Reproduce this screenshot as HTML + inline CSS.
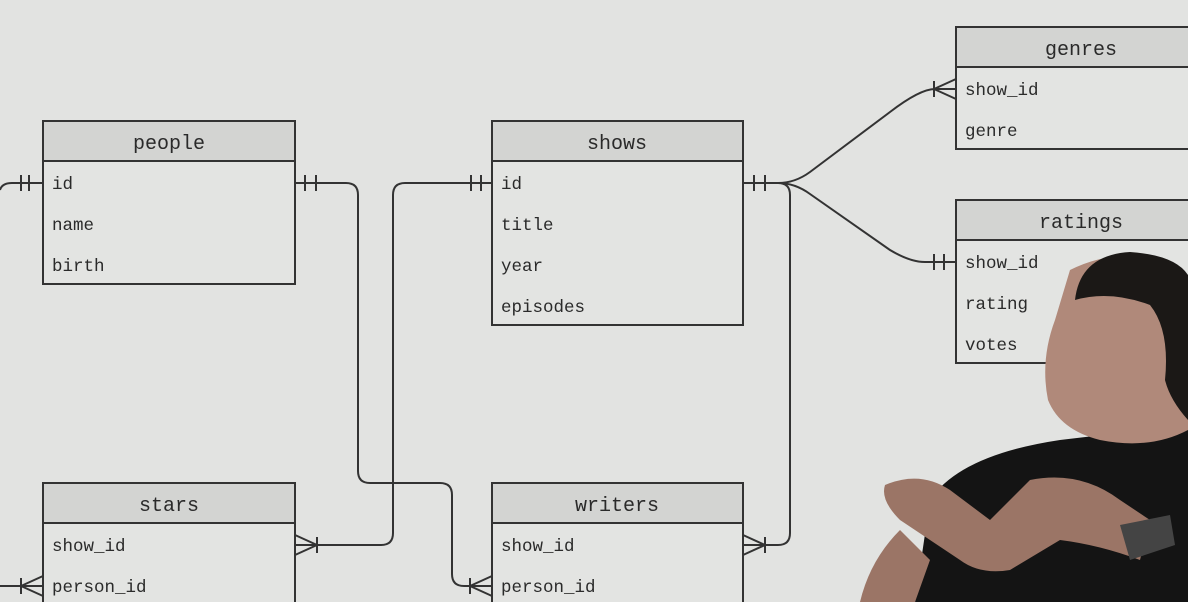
<!DOCTYPE html>
<html><head><meta charset="utf-8"><style>
html,body{margin:0;padding:0;background:#e2e3e1;}
svg{display:block}
text{font-family:"Liberation Mono",monospace;fill:#2a2a2a}
.h{font-size:20px}
.r{font-size:17.5px}
</style></head><body>
<svg width="1188" height="602" viewBox="0 0 1188 602">
<rect width="1188" height="602" fill="#e2e3e1"/>
<g stroke="#333" stroke-width="2" fill="none">
<!-- tables -->
<rect x="43" y="121" width="252" height="163" fill="#e3e4e2"/>
<rect x="43" y="121" width="252" height="40" fill="#d3d4d2"/>
<rect x="492" y="121" width="251" height="204" fill="#e3e4e2"/>
<rect x="492" y="121" width="251" height="40" fill="#d3d4d2"/>
<rect x="956" y="27" width="240" height="122" fill="#e3e4e2"/>
<rect x="956" y="27" width="240" height="40" fill="#d3d4d2"/>
<rect x="956" y="200" width="240" height="163" fill="#e3e4e2"/>
<rect x="956" y="200" width="240" height="40" fill="#d3d4d2"/>
<rect x="43" y="483" width="252" height="140" fill="#e3e4e2"/>
<rect x="43" y="483" width="252" height="40" fill="#d3d4d2"/>
<rect x="492" y="483" width="251" height="140" fill="#e3e4e2"/>
<rect x="492" y="483" width="251" height="40" fill="#d3d4d2"/>
<!-- connectors -->
<path d="M0 190 Q2 183 12 183 L43 183"/>
<path d="M21 175v16M29 175v16"/>
<path d="M295 183 L346 183 Q358 183 358 195 L358 471 Q358 483 370 483 L440 483 Q452 483 452 495 L452 574 Q452 586 464 586 L492 586"/>
<path d="M305 175v16M316 175v16"/>
<path d="M470 578v16M470 586L492 576M470 586L492 596"/>
<path d="M492 183 L405 183 Q393 183 393 195 L393 533 Q393 545 381 545 L295 545"/>
<path d="M471 175v16M481 175v16"/>
<path d="M317 537v16M317 545L295 535M317 545L295 555"/>
<path d="M743 183 L778 183 Q790 183 790 195 L790 533 Q790 545 778 545 L743 545"/>
<path d="M754 175v16M765 175v16"/>
<path d="M765 537v16M765 545L743 535M765 545L743 555"/>
<path d="M778 183 Q795 183 810 172 L890 112 Q920 89 935 89 L956 89"/>
<path d="M934 81v16M934 89L956 79M934 89L956 99"/>
<path d="M778 183 Q795 183 810 194 L890 250 Q910 262 925 262 L956 262"/>
<path d="M934 254v16M944 254v16"/>
<path d="M0 586 L43 586"/>
<path d="M21 578v16M21 586L43 576M21 586L43 596"/>
</g>
<text class="h" x="169" y="149" text-anchor="middle">people</text>
<text class="r" x="52" y="189">id</text>
<text class="r" x="52" y="230">name</text>
<text class="r" x="52" y="271">birth</text>
<text class="h" x="617" y="149" text-anchor="middle">shows</text>
<text class="r" x="501" y="189">id</text>
<text class="r" x="501" y="230">title</text>
<text class="r" x="501" y="271">year</text>
<text class="r" x="501" y="312">episodes</text>
<text class="h" x="1081" y="55" text-anchor="middle">genres</text>
<text class="r" x="965" y="95">show_id</text>
<text class="r" x="965" y="136">genre</text>
<text class="h" x="1081" y="228" text-anchor="middle">ratings</text>
<text class="r" x="965" y="268">show_id</text>
<text class="r" x="965" y="309">rating</text>
<text class="r" x="965" y="350">votes</text>
<text class="h" x="169" y="511" text-anchor="middle">stars</text>
<text class="r" x="52" y="551">show_id</text>
<text class="r" x="52" y="592">person_id</text>
<text class="h" x="617" y="511" text-anchor="middle">writers</text>
<text class="r" x="501" y="551">show_id</text>
<text class="r" x="501" y="592">person_id</text>
<!-- person overlay -->
<g>
<path d="M915 602 L930 500 Q960 455 1060 440 L1188 425 L1188 602 Z" fill="#141414"/>
<path d="M1070 270 Q1120 245 1170 265 L1188 280 L1188 430 Q1150 450 1100 440 Q1060 430 1048 400 Q1040 360 1055 320 Z" fill="#b0897a"/>
<path d="M1075 300 Q1080 255 1130 252 Q1175 255 1188 275 L1188 420 Q1170 400 1165 380 Q1170 330 1150 305 Q1110 290 1075 300 Z" fill="#1b1816"/>
<path d="M885 485 Q920 470 950 490 L990 520 L1030 480 Q1080 470 1120 500 L1150 520 L1140 560 Q1100 545 1060 540 L1010 570 Q980 575 960 560 L900 520 Q880 500 885 485 Z" fill="#9b7566"/>
<path d="M860 602 Q870 560 900 530 L930 560 L915 602 Z" fill="#9b7566"/>
<path d="M1120 525 L1170 515 L1175 545 L1130 560 Z" fill="#444"/>
</g>
</svg>
</body></html>
